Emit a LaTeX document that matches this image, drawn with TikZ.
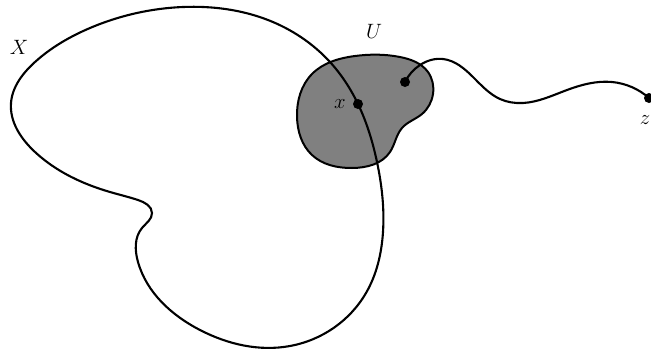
\documentclass[tikz,border=0pt]{standalone}
\usetikzlibrary{hobby}
\begin{document}
\begin{tikzpicture}[x=1pt,y=-1pt,
  curve/.style={line width=2.1pt, black},
  dotst/.style={circle, fill=black, inner sep=0pt, minimum size=10pt},
  lab/.style={font=\fontsize{21}{24}\selectfont, inner sep=1pt}]
\useasboundingbox (0,0) rectangle (651,354);
% neighbourhood U
\fill[black!50, draw=black, line width=2pt, use Hobby shortcut, closed=true]
  (355,56) .. (400,57) .. (428,72) .. (433,94) .. (422,114) .. (402,128) .. (390,152) .. (352,168) .. (312,155) .. (297,117) .. (312,74);
% curve X
\draw[curve, use Hobby shortcut, closed=true]
  (183,7) .. (268,20) .. (330,62) .. (358,104) .. (377,162) .. (383,232) .. (366,293) .. (290,346) .. (200,330) .. (138,262) .. (142,228) .. (152,213) .. (138,200) .. (110,192) .. (35,152) .. (11,103) .. (35,62) .. (90,28);
\node[dotst] (x) at (358,104) {};
\node[dotst] (y) at (405,82) {};
\node[dotst] (z) at (649,98) {};
\draw[curve, use Hobby shortcut]
  (405,82) .. (420,65) .. (443,59) .. (473,77) .. (500,99) .. (523,103) .. (567,90) .. (612,82) .. (649,98);
\node[lab] (xl) at (340,104) {$x$};
\node[lab] (Ul) at (374,31) {$U$};
\node[lab] (Xl) at (19,47) {$X$};
\node[lab] (zl) at (645,120) {$z$};
\end{tikzpicture}
\end{document}
